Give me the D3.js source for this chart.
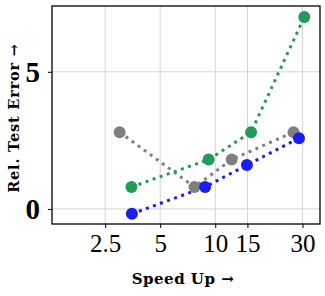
<!DOCTYPE html>
<html>
<head>
<meta charset="utf-8">
<script src="https://cdn.jsdelivr.net/npm/d3@7"></script>
<style>
  body { margin: 0; background: #fff; }
  svg { display: block; }
</style>
</head>
<body>
<svg width="325" height="296"></svg>
<script>
var margin = {left: 52, right: 5, top: 6, bottom: 72};
var width = 325, height = 296;
var serif = "'Liberation Serif', 'DejaVu Serif', serif";
var labelFont = "'DejaVu Serif', serif";

// data
var blueX = [3.5, 8.8, 14.9, 28.7];
var blueY = [-0.18, 0.8, 1.6, 2.58];
var grayX = [3.0, 7.7, 12.3, 26.8];
var grayY = [2.8, 0.8, 1.8, 2.8];
var greenX = [3.48, 9.2, 15.7, 30.7];
var greenY = [0.8, 1.8, 2.8, 7.0];
var xTicks = [2.5, 5, 10, 15, 30];
var yTicks = [0, 5];

var series = [
  {name: "gray", color: "#808080", xs: grayX, ys: grayY},
  {name: "green", color: "#229a5a", xs: greenX, ys: greenY},
  {name: "blue", color: "#1c1cf5", xs: blueX, ys: blueY}
];

var svg = d3.select("svg");

var x = d3.scaleLog().domain([1.28, 37.4]).range([margin.left, width - margin.right]);
var y = d3.scaleLinear().domain([-0.55, 7.4]).range([height - margin.bottom, margin.top]);

var g = svg.append("g");

// grid
g.selectAll(".gx").data(xTicks).enter().append("line")
  .attr("x1", function(d) { return x(d); }).attr("x2", function(d) { return x(d); })
  .attr("y1", margin.top).attr("y2", height - margin.bottom)
  .attr("stroke", "#d4d4d4").attr("stroke-width", 1);
g.selectAll(".gy").data(yTicks).enter().append("line")
  .attr("x1", margin.left).attr("x2", width - margin.right)
  .attr("y1", function(d) { return y(d); }).attr("y2", function(d) { return y(d); })
  .attr("stroke", "#d4d4d4").attr("stroke-width", 1);

// axes
var xAxis = svg.append("g")
  .attr("transform", "translate(0," + (height - margin.bottom) + ")")
  .call(d3.axisBottom(x).tickValues(xTicks).tickFormat(function(d) { return d; }).tickSize(4).tickPadding(6));
xAxis.select(".domain").remove();
xAxis.selectAll("text")
  .attr("font-family", serif)
  .attr("font-size", 25).attr("fill", "#000");

var yAxis = svg.append("g")
  .attr("transform", "translate(" + margin.left + ",0)")
  .call(d3.axisLeft(y).tickValues(yTicks).tickFormat(function(d) { return d; }).tickSize(4).tickPadding(8));
yAxis.select(".domain").remove();
yAxis.selectAll("text")
  .attr("font-family", serif)
  .attr("font-weight", "bold")
  .attr("font-size", 29).attr("fill", "#000");

// frame
svg.append("rect")
  .attr("x", margin.left).attr("y", margin.top)
  .attr("width", width - margin.left - margin.right)
  .attr("height", height - margin.top - margin.bottom)
  .attr("fill", "none").attr("stroke", "#000").attr("stroke-width", 1.3);

var line = d3.line().x(function(d) { return x(d[0]); }).y(function(d) { return y(d[1]); });

series.forEach(function(s) {
  var pts = s.xs.map(function(v, i) { return [v, s.ys[i]]; });
  g.append("path").datum(pts)
    .attr("d", line)
    .attr("fill", "none")
    .attr("stroke", s.color)
    .attr("stroke-width", 3)
    .attr("stroke-dasharray", "3,4.5");
});
series.forEach(function(s) {
  var pts = s.xs.map(function(v, i) { return [v, s.ys[i]]; });
  g.selectAll(".p-" + s.name).data(pts).enter().append("circle")
    .attr("cx", function(d) { return x(d[0]); })
    .attr("cy", function(d) { return y(d[1]); })
    .attr("r", 6)
    .attr("fill", s.color);
});

// labels
svg.append("text")
  .attr("x", 183)
  .attr("y", 284)
  .attr("text-anchor", "middle")
  .attr("font-family", labelFont)
  .attr("font-weight", "bold").attr("font-size", 15)
  .attr("letter-spacing", 0.5)
  .text("Speed Up \u2192");

svg.append("text")
  .attr("transform", "translate(19,118) rotate(-90)")
  .attr("text-anchor", "middle")
  .attr("font-family", labelFont)
  .attr("font-weight", "bold").attr("font-size", 14.5)
  .attr("letter-spacing", 0.8)
  .text("Rel. Test Error \u2192");
</script>
</body>
</html>
